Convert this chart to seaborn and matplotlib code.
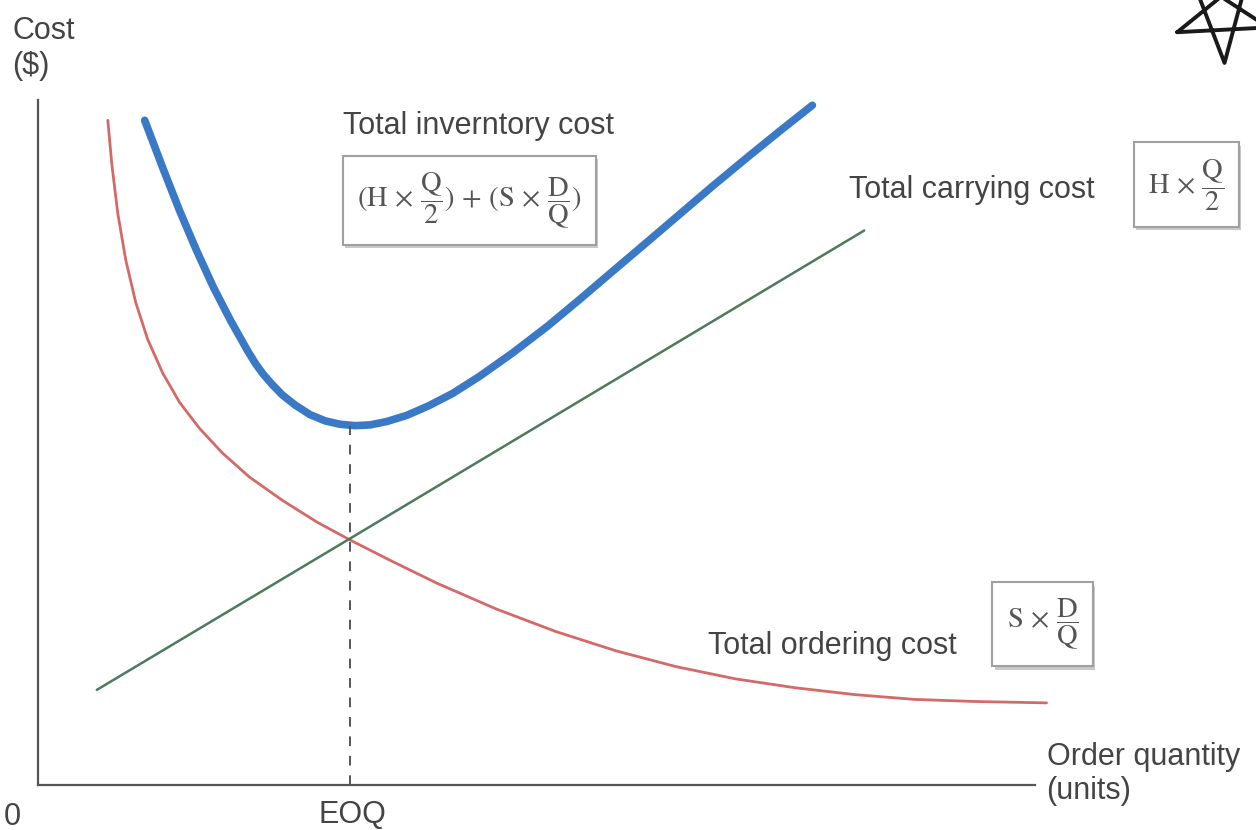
import numpy as np
import pandas as pd
import seaborn as sns
import matplotlib.pyplot as plt
import matplotlib.patheffects as pe

# values (order quantity vs cost, arbitrary units)
ordering_q = [0.70, 0.74, 0.80, 0.88, 0.98, 1.10, 1.25, 1.42, 1.62, 1.85, 2.12, 2.45, 2.80,
              3.13, 3.55, 4.00, 4.60, 5.20, 5.80, 6.40, 7.00, 7.60, 8.20, 8.80, 9.40, 10.12]
ordering_cost = [9.71, 9.07, 8.35, 7.67, 7.05, 6.51, 6.02, 5.59, 5.21, 4.85, 4.50, 4.16, 3.84,
                 3.58, 3.27, 2.95, 2.57, 2.24, 1.96, 1.73, 1.55, 1.42, 1.32, 1.25, 1.22, 1.20]

carrying_q = [0.59, 3.13, 8.29]
carrying_cost = [1.39, 3.60, 8.10]

total_q = [1.07, 1.25, 1.42, 1.59, 1.76, 1.93, 2.10, 2.18, 2.26, 2.35, 2.45, 2.58, 2.73, 2.88,
           3.03, 3.18, 3.33, 3.50, 3.70, 3.92, 4.16, 4.43, 4.76, 5.11, 5.44, 5.77, 6.11, 6.44,
           6.77, 7.11, 7.44, 7.77]
total_cost = [9.71, 9.02, 8.39, 7.81, 7.27, 6.79, 6.35, 6.16, 6.00, 5.85, 5.70, 5.55, 5.41, 5.32,
              5.27, 5.25, 5.26, 5.31, 5.40, 5.54, 5.72, 5.97, 6.31, 6.70, 7.10, 7.51, 7.93, 8.34,
              8.75, 9.16, 9.55, 9.93]

eoq = 3.13
eoq_cost = 5.25

ordering = pd.DataFrame({'q': ordering_q, 'cost': ordering_cost})
carrying = pd.DataFrame({'q': carrying_q, 'cost': carrying_cost})
total = pd.DataFrame({'q': total_q, 'cost': total_cost})

sns.set_style("white")
plt.rcParams['font.family'] = ['Liberation Sans', 'DejaVu Sans']
plt.rcParams['mathtext.fontset'] = 'stix'

fig = plt.figure(figsize=(12.56, 8.30), dpi=100)
ax = fig.add_axes([0.0303, 0.0542, 0.968, 0.866])

sns.lineplot(data=ordering, x='q', y='cost', ax=ax, color='#d46a68', lw=2.0,
             sort=False, estimator=None)
sns.lineplot(data=carrying, x='q', y='cost', ax=ax, color='#4d7a5c', lw=1.8,
             sort=False, estimator=None)
sns.lineplot(data=total, x='q', y='cost', ax=ax, color='#3a79c6', lw=5.5,
             sort=False, estimator=None, solid_capstyle='round', solid_joinstyle='round')
ax.vlines(eoq, 0, eoq_cost, colors='#555555', linestyles=(0, (5, 5)), lw=1.4)

ax.set_xlim(0, 12.2)
ax.set_ylim(0, 10.5)
ax.set_xticks([])
ax.set_yticks([])
ax.set_xlabel('')
ax.set_ylabel('')
for s in ['top', 'right']:
    ax.spines[s].set_visible(False)
for s in ['left', 'bottom']:
    ax.spines[s].set_color('#555555')
    ax.spines[s].set_linewidth(1.6)
ax.spines['bottom'].set_bounds(0, 10)
ax.spines['left'].set_bounds(0, 10)

txt = '#444444'
fs = 22
ax.text(-0.26, 11.24, 'Cost\n($)', ha='left', va='top', fontsize=fs, color=txt, linespacing=1.25)
ax.text(-0.26, -0.47, '0', ha='center', va='center', fontsize=fs, color=txt)
ax.text(3.15, -0.44, 'EOQ', ha='center', va='center', fontsize=fs, color=txt)
ax.text(10.12, 0.63, 'Order quantity\n(units)', ha='left', va='top', fontsize=fs, color=txt,
        linespacing=1.2)
ax.text(3.06, 9.62, 'Total inverntory cost', ha='left', va='center', fontsize=fs, color=txt)
ax.text(8.14, 8.69, 'Total carrying cost', ha='left', va='center', fontsize=fs, color=txt)
ax.text(6.72, 2.03, 'Total ordering cost', ha='left', va='center', fontsize=fs, color=txt)

mfs = 20.5
shadow = [pe.SimplePatchShadow(offset=(1.5, -2.5), shadow_rgbFace='#888888', alpha=0.45),
          pe.Normal()]
formulas = [
    (4.33, 8.54,
     r'$(\mathrm{H}\,\times\,\dfrac{\mathrm{Q}}{2})\,+\,(\mathrm{S}\,\times\,\dfrac{\mathrm{D}}{\mathrm{Q}})$'),
    (11.52, 8.77, r'$\mathrm{H}\,\times\,\dfrac{\mathrm{Q}}{2}$'),
    (10.08, 2.35, r'$\mathrm{S}\,\times\,\dfrac{\mathrm{D}}{\mathrm{Q}}$'),
]
for fx, fy, f in formulas:
    t = ax.text(fx, fy, f, ha='center', va='center', fontsize=mfs, color='#555555',
                bbox=dict(boxstyle='square,pad=0.5', fc='white', ec='#a0a0a0', lw=1.5))
    t.get_bbox_patch().set_path_effects(shadow)

# hand-drawn star in the corner
sax = fig.add_axes([1130 / 1256, (830 - 110) / 830, 160 / 1256, 160 / 830])
ang = np.deg2rad(201 + 144 * np.arange(6))
sax.plot(12 + 48 * np.cos(ang), 15 + 48 * np.sin(ang), color='#1a1a1a', lw=2.8,
         solid_joinstyle='round')
sax.set_xlim(-80, 80)
sax.set_ylim(-80, 80)
sax.axis('off')

fig.savefig('out.png', dpi=100)
